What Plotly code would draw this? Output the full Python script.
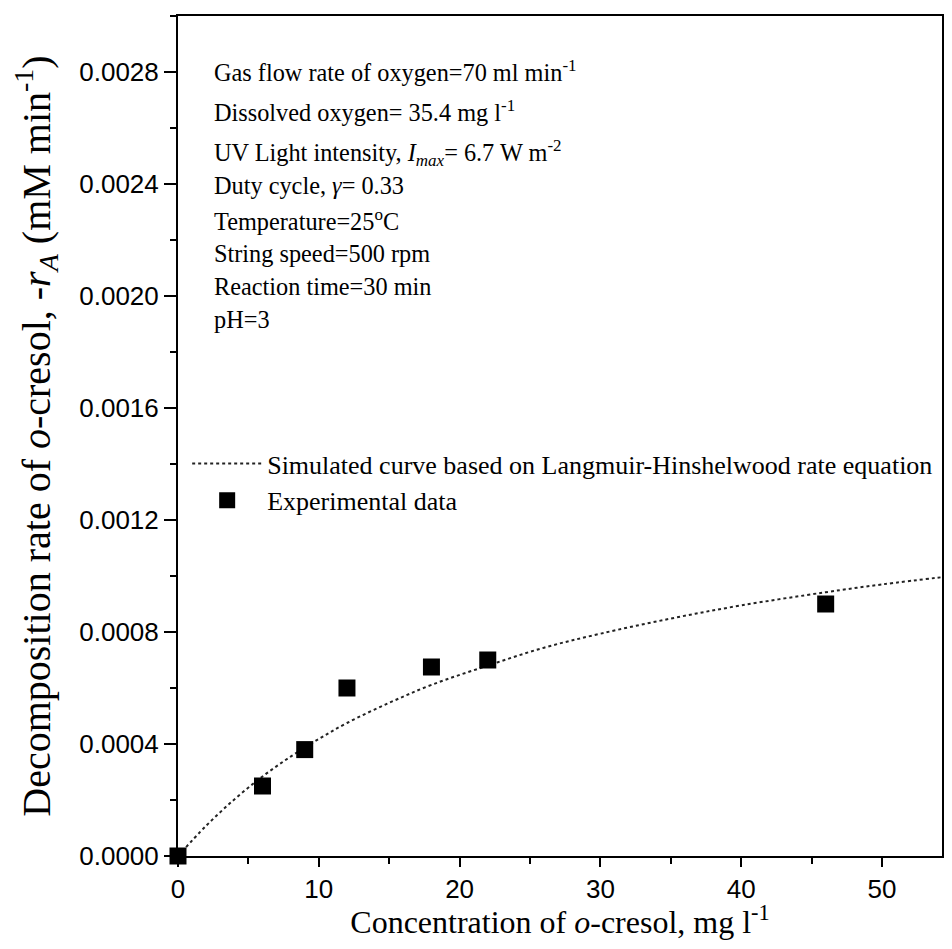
import plotly.graph_objects as go

# Experimental data
exp_conc = [0, 6, 9, 12, 18, 22, 46]
exp_rate = [0.0, 0.00025, 0.00038, 0.00060, 0.000675, 0.00070, 0.00090]

# Simulated L-H curve
sim_conc = [0, 2, 4, 6, 8, 10, 12, 15, 18, 22, 26, 30, 35, 40, 46, 50, 55]
sim_rate = [0.0, 0.000108, 0.000202, 0.000284, 0.000355, 0.000418, 0.000475,
            0.000547, 0.000611, 0.000680, 0.000744, 0.000794, 0.000848,
            0.000895, 0.000942, 0.000970, 0.001000]

x_ticks = [0, 10, 20, 30, 40, 50]
y_ticks = [0.0000, 0.0004, 0.0008, 0.0012, 0.0016, 0.0020, 0.0024, 0.0028]

conditions = [
    "Gas flow rate of oxygen=70 ml min<sup>-1</sup>",
    "Dissolved oxygen= 35.4 mg l<sup>-1</sup>",
    "UV Light intensity, <i>I</i><sub><i>max</i></sub>= 6.7 W m<sup>-2</sup>",
    "Duty cycle, <i>γ</i>= 0.33",
    "Temperature=25<sup>o</sup>C",
    "String speed=500 rpm",
    "Reaction time=30 min",
    "pH=3",
]
cond_y_px = [71, 111, 153, 186, 220, 253, 287, 319]

SERIF = "Liberation Serif, Times New Roman, serif"
SANS = "Liberation Sans, Arial, sans-serif"

# page body has an 8px margin; keep the figure inside the 952x949 window
OFF = 8
W, H = 936, 932
PLOT_L, PLOT_T, PLOT_B, PLOT_R = 178, 16, 856, 942   # absolute page pixels
L = PLOT_L - OFF
T = PLOT_T - OFF
B = H - (PLOT_B - OFF)
R = (OFF + W) - PLOT_R
plot_w = W - L - R
plot_h = H - T - B
x_max = 50 * (PLOT_R - PLOT_L) / (882 - PLOT_L)   # keep 0..50 at reference pixels

fig = go.Figure()
fig.add_trace(go.Scatter(
    x=sim_conc, y=sim_rate, mode="lines", line_shape="spline",
    line=dict(color="#222222", width=2, dash="dot"),
    name="Simulated curve based on Langmuir-Hinshelwood rate equation",
))
fig.add_trace(go.Scatter(
    x=exp_conc, y=exp_rate, mode="markers",
    marker=dict(symbol="square", size=17, color="black"),
    name="Experimental data", cliponaxis=False,
))

annotations = []
for txt, ypx in zip(conditions, cond_y_px):
    annotations.append(dict(
        text=txt, xref="paper", yref="paper",
        x=(212 - PLOT_L) / plot_w, y=(PLOT_B - ypx) / plot_h,
        xanchor="left", yanchor="middle", showarrow=False,
        font=dict(family=SERIF, size=24.3, color="black"),
    ))

axis_common = dict(
    showline=True, linecolor="black", linewidth=2, mirror=True,
    ticks="outside", tickwidth=2, tickcolor="black",
    showgrid=False, zeroline=False,
    tickfont=dict(family=SANS, size=26, color="black"),
)

fig.update_layout(
    width=W, height=H,
    margin=dict(l=L, r=R, t=T, b=B, pad=0, autoexpand=False),
    paper_bgcolor="white", plot_bgcolor="white",
    xaxis=dict(range=[0, x_max], tickvals=x_ticks, ticklen=9,
               minor=dict(ticks="outside", ticklen=6, tickwidth=2, dtick=5, tick0=0, tickcolor="black"),
               title=dict(text="Concentration of <i>o</i>-cresol, mg l<sup>-1</sup>",
                          font=dict(family=SERIF, size=32, color="black"), standoff=0),
               **axis_common),
    yaxis=dict(range=[0, 0.003], tickvals=y_ticks, tickformat=".4f", ticksuffix=" ", ticklen=12,
               minor=dict(ticks="outside", ticklen=6, tickwidth=2, dtick=0.0002, tick0=0, tickcolor="black"),
               title=dict(text="Decomposition rate of <i>o</i>-cresol, -<i>r</i><sub><i>A</i></sub> (mM min<sup>-1</sup>)",
                          font=dict(family=SERIF, size=40, color="black"), standoff=18),
               **axis_common),
    legend=dict(x=0.012, y=(PLOT_B - 440) / plot_h, xanchor="left", yanchor="top",
                bgcolor="rgba(0,0,0,0)", itemwidth=70,
                font=dict(family=SERIF, size=26, color="black")),
    annotations=annotations,
)

fig.write_html("out.html")
